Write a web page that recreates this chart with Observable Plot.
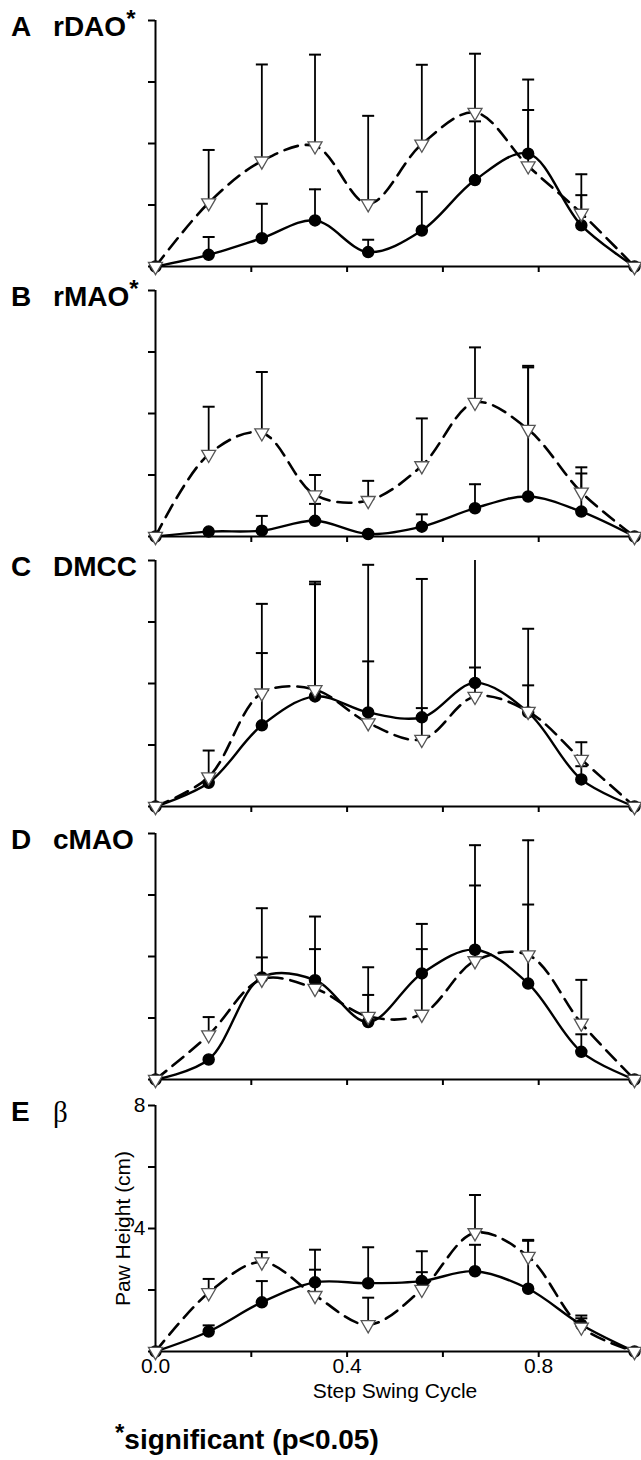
<!DOCTYPE html>
<html><head><meta charset="utf-8">
<script src="https://cdn.jsdelivr.net/npm/d3@7"></script>
<script src="https://cdn.jsdelivr.net/npm/@observablehq/plot@0.6"></script>
<style>
body{margin:0;background:#fff;}
#chart{position:relative;width:641px;height:1460px;font-family:"Liberation Sans",Arial,sans-serif;color:#000;}
.panel{position:absolute;left:0;}
.lbl{position:absolute;font-weight:bold;font-size:28px;line-height:28px;white-space:nowrap;}
.lbl sup{font-size:24px;line-height:0;vertical-align:0;position:relative;top:-9px;}
.beta{font-family:"Liberation Serif","DejaVu Serif",serif;font-weight:normal;font-size:29px;}
#foot{position:absolute;left:115px;top:1426px;font-weight:bold;font-size:28px;line-height:28px;white-space:nowrap;}
#foot sup{font-size:24px;line-height:0;position:relative;top:-8px;vertical-align:0;}
</style></head><body><div id="chart"></div>
<script>
// Step swing cycle positions (fraction of swing)
const phase = [0, 0.111, 0.222, 0.333, 0.444, 0.556, 0.667, 0.778, 0.889, 1.0];

// Panel identities
const panelLetters = ["A", "B", "C", "D", "E"];
const panelNames = ["rDAO", "rMAO", "DMCC", "cMAO", "β"];
const panelSignificant = [true, true, false, false, false];

// Paw height (cm): solid series (filled circles) and dashed series (open triangles), with upper error bounds
const rDAO_solid       = [0, 0.38, 0.92, 1.50, 0.47, 1.17, 2.81, 3.67, 1.34, 0];
const rDAO_solidUpper  = [0, 0.96, 2.04, 2.51, 0.87, 2.43, 4.72, 5.09, 2.32, 0];
const rDAO_dashed      = [0, 2.07, 3.43, 3.92, 2.04, 3.98, 5.01, 3.27, 1.73, 0];
const rDAO_dashedUpper = [0, 3.79, 6.57, 6.89, 4.90, 6.56, 6.92, 6.08, 3.00, 0];

const rMAO_solid       = [0, 0.16, 0.19, 0.51, 0.08, 0.32, 0.92, 1.30, 0.81, 0];
const rMAO_solidUpper  = [0, 0.16, 0.67, 1.06, 0.08, 0.72, 1.70, 5.50, 2.05, 0];
const rMAO_dashed      = [0, 2.67, 3.37, 1.35, 1.17, 2.30, 4.36, 3.48, 1.44, 0];
const rMAO_dashedUpper = [0, 4.22, 5.35, 2.00, 1.81, 3.84, 6.15, 5.55, 2.25, 0];

const DMCC_solid       = [0, 0.77, 2.64, 3.58, 3.06, 2.90, 4.02, 3.06, 0.88, 0];
const DMCC_solidUpper  = [0, 1.04, 4.99, 7.23, 4.72, 3.20, 4.52, 3.94, 1.31, 0];
const DMCC_dashed      = [0, 0.96, 3.69, 3.80, 2.72, 2.18, 3.58, 3.09, 1.53, 0];
const DMCC_dashedUpper = [0, 1.82, 6.59, 7.31, 7.86, 7.40, 8.60, 5.78, 2.09, 0];

const cMAO_solid       = [0, 0.65, 3.32, 3.23, 1.87, 3.45, 4.22, 3.12, 0.90, 0];
const cMAO_solidUpper  = [0, 0.65, 3.97, 4.24, 2.75, 4.24, 6.31, 5.69, 1.47, 0];
const cMAO_dashed      = [0, 1.45, 3.26, 2.96, 2.05, 2.12, 3.86, 4.05, 1.83, 0];
const cMAO_dashedUpper = [0, 2.03, 5.57, 5.30, 3.65, 5.06, 7.62, 7.78, 3.24, 0];

const beta_solid       = [0, 0.65, 1.60, 2.25, 2.22, 2.29, 2.61, 2.04, 0.87, 0];
const beta_solidUpper  = [0, 0.85, 2.29, 3.31, 3.39, 3.26, 3.47, 3.60, 1.17, 0];
const beta_dashed      = [0, 1.91, 2.91, 1.82, 0.87, 2.02, 3.86, 3.09, 0.79, 0];
const beta_dashedUpper = [0, 2.36, 3.23, 2.66, 1.75, 2.58, 5.09, 3.63, 1.08, 0];

// Axis ticks and labels
const xTicks = [0, 0.2, 0.4, 0.6, 0.8, 1.0];
const xTickLabels = ["0.0", "", "0.4", "", "0.8", ""];
const yTicks = [0, 2, 4, 6, 8];
const yTickLabels = ["", "", "4", "", "8"];
const xLabel = "Step Swing Cycle";
const yLabel = "Paw Height (cm)";
const footnote = "significant (p<0.05)";

const seriesSets = [
  [rDAO_solid, rDAO_solidUpper, rDAO_dashed, rDAO_dashedUpper],
  [rMAO_solid, rMAO_solidUpper, rMAO_dashed, rMAO_dashedUpper],
  [DMCC_solid, DMCC_solidUpper, DMCC_dashed, DMCC_dashedUpper],
  [cMAO_solid, cMAO_solidUpper, cMAO_dashed, cMAO_dashedUpper],
  [beta_solid, beta_solidUpper, beta_dashed, beta_dashedUpper]
];

// layout
const panelTops = [20, 290, 560, 833, 1105];
const innerH = 246;
const mTop = 10;

const capSymbol = {
  draw(context, size) {
    const h = Math.sqrt(size / Math.PI);
    context.moveTo(-h, 0);
    context.lineTo(h, 0);
  }
};

const chart = document.getElementById("chart");

seriesSets.forEach(([sMean, sUp, dMean, dUp], i) => {
  const isLast = i === seriesSets.length - 1;
  const solid = phase.map((x, j) => ({x, y: sMean[j], up: sUp[j]}));
  const dashed = phase.map((x, j) => ({x, y: dMean[j], up: dUp[j]}));
  const errs = solid.concat(dashed).filter(d => d.up > d.y);
  const mBottom = isLast ? 60 : 10;

  const plot = Plot.plot({
    width: 641,
    height: mTop + innerH + mBottom,
    marginLeft: 155,
    marginRight: 7,
    marginTop: mTop,
    marginBottom: mBottom,
    x: {domain: [0, 1], axis: null},
    y: {domain: [0, 8], axis: null},
    style: {fontFamily: "'Liberation Sans', Arial, sans-serif", fontSize: "21px", overflow: "visible", background: "transparent", color: "#000"},
    marks: [
      Plot.axisY({
        ticks: yTicks, tickSize: 7, strokeWidth: 2, tickPadding: 3,
        tickFormat: isLast ? (d => yTickLabels[yTicks.indexOf(d)]) : (() => ""),
        label: isLast ? yLabel : null, labelAnchor: "center", labelArrow: "none", labelOffset: 40
      }),
      Plot.axisX({
        ticks: xTicks, tickSize: 6, strokeWidth: 2, tickPadding: 1,
        tickFormat: isLast ? (d => xTickLabels[xTicks.indexOf(d)]) : (() => ""),
        label: isLast ? xLabel : null, labelAnchor: "center", labelArrow: "none", labelOffset: 46
      }),
      Plot.ruleX([0], {strokeWidth: 2}),
      Plot.ruleY([0], {strokeWidth: 2}),
      Plot.ruleX(errs, {x: "x", y1: "y", y2: "up", stroke: "#000", strokeWidth: 1.8, clip: true}),
      Plot.dot(errs, {x: "x", y: "up", symbol: capSymbol, r: 6, stroke: "#000", strokeWidth: 2, fill: "none", clip: true}),
      Plot.line(dashed, {x: "x", y: "y", curve: "catmull-rom", stroke: "#000", strokeWidth: 2.6, strokeDasharray: "14,8"}),
      Plot.line(solid, {x: "x", y: "y", curve: "catmull-rom", stroke: "#000", strokeWidth: 2.4}),
      Plot.dot(solid, {x: "x", y: "y", r: 5.5, fill: "#000", stroke: "#000"}),
      Plot.dot(dashed, {x: "x", y: "y", symbol: "triangle", rotate: 180, r: 5.2, fill: "#fff", stroke: "#555", strokeWidth: 1.3})
    ]
  });
  plot.classList.add("panel");
  plot.style.top = (panelTops[i] - mTop) + "px";
  chart.appendChild(plot);

  const letter = document.createElement("div");
  letter.className = "lbl";
  letter.style.left = "11px";
  letter.style.top = (panelTops[i] - 7) + "px";
  letter.textContent = panelLetters[i];
  chart.appendChild(letter);

  const name = document.createElement("div");
  name.className = "lbl" + (panelNames[i] === "β" ? " beta" : "");
  name.style.left = "53px";
  name.style.top = (panelTops[i] - 7) + "px";
  name.textContent = panelNames[i];
  if (panelSignificant[i]) {
    const s = document.createElement("sup");
    s.textContent = "*";
    name.appendChild(s);
  }
  chart.appendChild(name);
});

const foot = document.createElement("div");
foot.id = "foot";
const fs = document.createElement("sup");
fs.textContent = "*";
foot.appendChild(fs);
foot.appendChild(document.createTextNode(footnote));
chart.appendChild(foot);
</script>
</body></html>
